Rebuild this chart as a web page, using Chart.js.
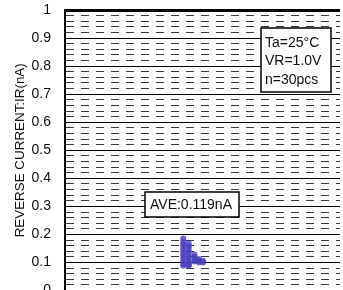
<!DOCTYPE html>
<html>
<head>
<meta charset="utf-8">
<script src="https://cdn.jsdelivr.net/npm/chart.js@4.4.1/dist/chart.umd.min.js"></script>
<style>
html, body { margin: 0; padding: 0; background: #fff; overflow: hidden; }
</style>
</head>
<body>
<canvas id="ir_scatter" width="343" height="320"></canvas>
<script>
// IR ばらつき n=30 (各列 = 横にずらした測定値)
const col1X = 43.0, col2X = 45.0, col3X = 47.1, col4X = 48.7, col5X = 50.2;
const sampleX = [
    col1X, col1X, col1X, col1X, col1X, col1X, col1X, col1X, col1X, col1X, col1X,
    col2X, col2X, col2X, col2X, col2X, col2X, col2X, col2X, col2X, col2X,
    col3X, col3X, col3X, col3X,
    col4X, col4X, col4X,
    col5X, col5X
];
const irValues = [
    0.186, 0.175, 0.165, 0.155, 0.145, 0.135, 0.125, 0.115, 0.105, 0.095, 0.089,
    0.168, 0.158, 0.148, 0.138, 0.128, 0.118, 0.108, 0.099, 0.092, 0.089,
    0.129, 0.120, 0.112, 0.104,
    0.113, 0.106, 0.100,
    0.106, 0.100
];
const yTickLabels = ['0', '0.1', '0.2', '0.3', '0.4', '0.5', '0.6', '0.7', '0.8', '0.9', '1'];
const condLines = ['Ta=25°C', 'VR=1.0V', 'n=30pcs'];
const aveLabel = 'AVE:0.119nA';

const FONT = '"Liberation Sans", Arial, sans-serif';

function isMajor(v) {
    return Math.abs(v * 10 - Math.round(v * 10)) < 1e-6;
}

//テキストボックス
const boxPlugin = {
    id: 'boxes',
    afterDatasetsDraw(chart) {
        const ctx = chart.ctx;
        ctx.save();
        ctx.font = '14px ' + FONT;
        ctx.textBaseline = 'middle';
        ctx.textAlign = 'left';

        // AVE
        ctx.fillStyle = '#fff';
        ctx.fillRect(145, 192, 94, 25);
        ctx.strokeStyle = '#000';
        ctx.lineWidth = 1.5;
        ctx.strokeRect(145, 192, 94, 25);
        ctx.fillStyle = '#111';
        ctx.fillText(aveLabel, 150, 205);

        // 条件
        ctx.fillStyle = '#fff';
        ctx.fillRect(261, 28, 70, 64);
        ctx.strokeRect(261, 28, 70, 64);
        ctx.fillStyle = '#111';
        condLines.forEach((t, i) => ctx.fillText(t, 265, 43 + i * 18.5));
        ctx.restore();
    }
};

let config = {
    type: 'scatter',
    data: {
        datasets: [{
            label: 'IR',
            data: irValues.map((v, i) => ({ x: sampleX[i], y: v })),
            backgroundColor: 'rgba(72, 62, 190, 0.8)',
            borderWidth: 0,
            pointRadius: 3,
            pointHoverRadius: 3
        }]
    },
    options: {
        responsive: false,
        animation: false,
        devicePixelRatio: 1,
        layout: { padding: { top: 10, right: 0, bottom: 29.4, left: 0 } },
        plugins: {
            legend: { display: false },
            tooltip: { enabled: false }
        },
        scales: {
            x: {
                type: 'linear',
                min: 0,
                max: 100,
                display: false
            },
            y: {
                min: 0,
                max: 1,
                afterFit: (scale) => {
                    scale.width = 65;
                    scale.paddingTop = 0;
                    scale.paddingBottom = 0;
                },
                ticks: {
                    stepSize: 0.02,
                    autoSkip: false,
                    padding: 14,
                    color: '#111',
                    font: { family: FONT, size: 14 },
                    callback: (v) => isMajor(v) ? yTickLabels[Math.round(v * 10)] : ''
                },
                grid: {
                    drawTicks: false,
                    color: (c) => c.tick && isMajor(c.tick.value) ? '#000' : '#3a3a3a',
                    lineWidth: (c) => c.tick && c.tick.value > 0.999 ? 3 : 1
                },
                border: {
                    display: true,
                    color: '#000',
                    width: 2,
                    dash: (c) => c.tick && !isMajor(c.tick.value) ? [8, 7] : []
                },
                title: {
                    display: true,
                    text: 'REVERSE CURRENT:IR(nA)',
                    color: '#111',
                    font: { family: FONT, size: 13.4 },
                    padding: { top: 12, bottom: 0 }
                }
            }
        }
    },
    plugins: [boxPlugin]
};

let ir_chart = new Chart(document.getElementById('ir_scatter'), config);
</script>
</body>
</html>
